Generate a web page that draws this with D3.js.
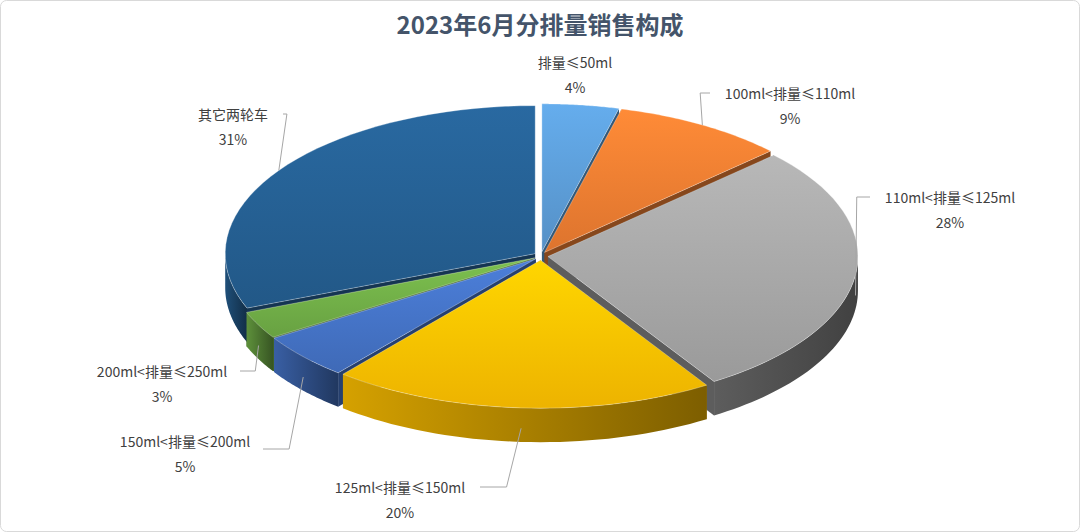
<!DOCTYPE html>
<html><head><meta charset="utf-8">
<script src="https://cdn.jsdelivr.net/npm/d3@7"></script>
<style>body{margin:0;background:#fff}</style>
</head><body>
<svg id="chart" width="1080" height="532"></svg>
<script>
const categories = ['排量≤50ml','100ml<排量≤110ml','110ml<排量≤125ml','125ml<排量≤150ml','150ml<排量≤200ml','200ml<排量≤250ml','其它两轮车'];
const shares = [4, 9, 28, 20, 5, 3, 31];
const colors = ['#5b9bd5','#ed7d31','#a5a5a5','#ffc000','#4472c4','#70ad47','#255e91'];
// label anchor points (layout only)
const labelPos = [[575,68],[790,99],[950,203],[400,493],[185,447],[162,377],[233,120]];

const svg = d3.select('#chart');
const W = 1080, H = 532;
svg.append('rect').attr('x',0.5).attr('y',0.5).attr('width',W-1).attr('height',H-1)
  .attr('rx',6).attr('fill','#fff').attr('stroke','#d9d9d9');
svg.append('text').attr('x',W/2).attr('y',34).attr('text-anchor','middle')
  .style('font-family','"Noto Sans CJK SC"').style('font-weight','bold').style('font-size','24px')
  .style('fill','#44546a').text('2023年6月分排量销售构成');

const cx = 541, cy = 256, rx = 310, ry = 148, depth = 34, explode = 7;
const pie = d3.pie().sort(null).value(d => d)(shares);
const defs = svg.append('defs');
const pt = (a, ox, oy, dy=0) => [ox + rx*Math.sin(a), oy - ry*Math.cos(a) + dy];

pie.forEach((p,i)=>{
  const c = d3.color(colors[i]);
  const g1 = defs.append('linearGradient').attr('id','top'+i).attr('x1',0).attr('y1',0).attr('x2',0).attr('y2',1);
  g1.append('stop').attr('offset','0%').attr('stop-color',c.brighter(0.3));
  g1.append('stop').attr('offset','100%').attr('stop-color',c.darker(0.2));
  const g2 = defs.append('linearGradient').attr('id','wall'+i).attr('x1',0).attr('y1',0).attr('x2',1).attr('y2',0);
  g2.append('stop').attr('offset','0%').attr('stop-color',i===2 ? c.darker(1.6) : c.darker(0.5));
  g2.append('stop').attr('offset','100%').attr('stop-color',i===2 ? c.darker(2.6) : c.darker(2.0));
});

const arcPts = (a0,a1,ox,oy,dy) => d3.range(0,41).map(k=>pt(a0+(a1-a0)*k/40,ox,oy,dy));
const faces = [];
pie.forEach((p,i)=>{
  const mid = (p.startAngle+p.endAngle)/2;
  const ox = cx + explode*Math.sin(mid), oy = cy - explode*0.6*Math.cos(mid);
  p.ox = ox; p.oy = oy;
  const a0 = Math.max(p.startAngle, Math.PI/2), a1 = Math.min(p.endAngle, 3*Math.PI/2);
  if (a1 > a0) {
    const top = arcPts(a0,a1,ox,oy,0), bot = arcPts(a0,a1,ox,oy,depth).reverse();
    faces.push({pts: top.concat(bot), fill:`url(#wall${i})`, z: oy + ry});
  }
  [p.startAngle, p.endAngle].forEach(a=>{
    const e = pt(a,ox,oy);
    faces.push({pts:[[ox,oy],e,[e[0],e[1]+depth],[ox,oy+depth]], fill:d3.color(colors[i]).darker(1.6), z:(oy+e[1])/2});
  });
});
faces.sort((a,b)=>a.z-b.z);
const line = d3.line();
svg.selectAll('path.face').data(faces).join('path').attr('class','face')
  .attr('d',d=>line(d.pts)+'Z').attr('fill',d=>d.fill);

svg.selectAll('path.top').data(pie).join('path').attr('class','top')
  .attr('d',p=>line([[p.ox,p.oy]].concat(arcPts(p.startAngle,p.endAngle,p.ox,p.oy,0)))+'Z')
  .attr('fill',(p,i)=>`url(#top${i})`).attr('stroke','#fff').attr('stroke-width',0.6).attr('stroke-opacity',0.5);

pie.forEach((p,i)=>{
  const mid = (p.startAngle+p.endAngle)/2;
  const [lx,ly] = labelPos[i];
  const front = Math.cos(mid) < 0;
  const e = pt(mid, p.ox, p.oy, front ? depth*0.6 : 0);
  const right = Math.sin(mid) > 0;
  let sx, sy;
  if (i===0) { sx = lx; sy = ly+30; }
  else if (i===3) { sx = lx+80; sy = ly-6; }
  else if (i===4) { sx = lx+78; sy = ly+2; }
  else if (i===5) { sx = lx+78; sy = ly-6; }
  else if (i===6) { sx = lx+50; sy = ly-6; }
  else { sx = right ? lx-80 : lx+80; sy = ly-6; }
  if (i!==0) svg.append('path').attr('d',line([[sx,sy],[ (sx+e[0])/2 + (right?-6:6), sy],[e[0],e[1]]]))
    .attr('fill','none').attr('stroke','#a6a6a6').attr('stroke-width',1);
  const t = svg.append('text').attr('x',lx).attr('y',ly).attr('text-anchor','middle')
    .style('font-family','"Noto Sans CJK SC"').style('font-size','14px').style('fill','#404040');
  t.append('tspan').attr('x',lx).text(categories[i]);
  t.append('tspan').attr('x',lx).attr('dy',25).text(shares[i]+'%');
});
</script>
</body></html>
